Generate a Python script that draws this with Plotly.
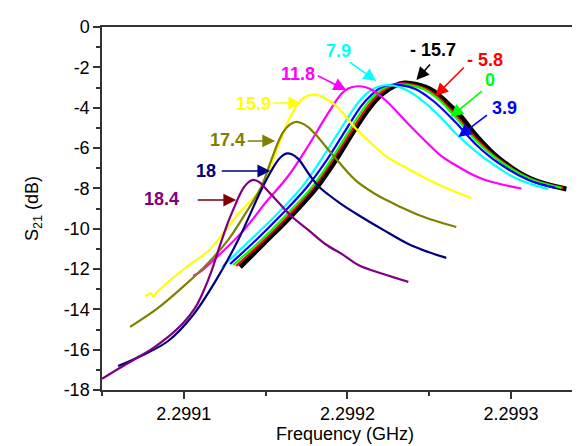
import plotly.graph_objects as go

# ---- data (frequency in GHz, S21 in dB) ----
labels = ["-15.7", "-5.8", "0", "3.9", "7.9", "11.8", "15.9", "17.4", "18", "18.4"]
colors = ["#000000", "#FF0000", "#00FF00", "#0000FF", "#00FFFF", "#FF00FF",
          "#FFFF00", "#808000", "#000080", "#800080"]

f_black = [2.2991344, 2.2991491, 2.2991644, 2.2991809, 2.2991925, 2.2992042, 2.2992133, 2.2992213,
           2.2992286, 2.2992347, 2.2992421, 2.2992513, 2.2992604, 2.2992690, 2.2992788, 2.2992922,
           2.2993124, 2.2993338]
s_black = [-11.90, -10.71, -9.47, -7.98, -6.64, -5.11, -4.02, -3.32, -2.93, -2.78, -2.85, -3.12,
           -3.72, -4.41, -5.40, -6.49, -7.54, -8.03]

f_red = [2.2991320, 2.2991479, 2.2991632, 2.2991791, 2.2991907, 2.2992029, 2.2992121, 2.2992194,
         2.2992268, 2.2992329, 2.2992396, 2.2992494, 2.2992586, 2.2992678, 2.2992782, 2.2992922,
         2.2993124, 2.2993320]
s_red = [-11.85, -10.66, -9.42, -7.98, -6.64, -5.11, -3.97, -3.32, -2.93, -2.80, -2.85, -3.12,
         -3.72, -4.51, -5.50, -6.54, -7.54, -7.98]

f_green = [2.2991302, 2.2991467, 2.2991620, 2.2991779, 2.2991895, 2.2992017, 2.2992109, 2.2992182,
           2.2992250, 2.2992305, 2.2992372, 2.2992464, 2.2992555, 2.2992659, 2.2992782, 2.2992922,
           2.2993118, 2.2993308]
s_green = [-11.80, -10.61, -9.37, -7.98, -6.64, -5.06, -3.92, -3.27, -2.93, -2.85, -2.88, -3.07,
           -3.57, -4.46, -5.60, -6.59, -7.54, -7.98]

f_blue = [2.2991283, 2.2991442, 2.2991589, 2.2991748, 2.2991870, 2.2991993, 2.2992084, 2.2992146,
          2.2992201, 2.2992256, 2.2992323, 2.2992415, 2.2992525, 2.2992659, 2.2992782, 2.2992922,
          2.2993106, 2.2993271]
s_blue = [-11.75, -10.56, -9.37, -7.98, -6.64, -5.06, -3.92, -3.37, -3.02, -2.88, -2.88, -3.07,
          -3.67, -4.71, -5.80, -6.74, -7.59, -7.98]

f_cyan = [2.2991234, 2.2991393, 2.2991546, 2.2991717, 2.2991834, 2.2991962, 2.2992054, 2.2992115,
          2.2992170, 2.2992219, 2.2992280, 2.2992372, 2.2992476, 2.2992574, 2.2992659, 2.2992782,
          2.2992904, 2.2993026, 2.2993136, 2.2993228]
s_cyan = [-11.90, -10.66, -9.47, -7.98, -6.64, -5.01, -3.87, -3.32, -3.02, -2.90, -2.90, -3.17,
          -3.77, -4.51, -5.26, -6.15, -6.89, -7.49, -7.83, -8.03]

f_magenta = [2.2991057, 2.2991106, 2.2991222, 2.2991363, 2.2991503, 2.2991638, 2.2991760, 2.2991864,
             2.2991962, 2.2992005, 2.2992048, 2.2992090, 2.2992139, 2.2992231, 2.2992372, 2.2992513,
             2.2992574, 2.2992659, 2.2992782, 2.2992861, 2.2992983, 2.2993063]
s_magenta = [-12.35, -12.10, -11.25, -10.11, -8.68, -7.39, -5.90, -4.51, -3.32, -3.05, -2.95, -2.95,
             -3.07, -3.62, -4.81, -5.95, -6.40, -6.84, -7.39, -7.64, -7.88, -8.01]

f_yellow = [2.2990763, 2.2990800, 2.2990812, 2.2990843, 2.2991008, 2.2991149, 2.2991228, 2.2991332,
            2.2991473, 2.2991577, 2.2991638, 2.2991681, 2.2991717, 2.2991754, 2.2991791, 2.2991828,
            2.2991870, 2.2991925, 2.2991987, 2.2992048, 2.2992170, 2.2992250, 2.2992372, 2.2992451,
            2.2992574, 2.2992757]
s_yellow = [-13.36, -13.21, -13.36, -13.09, -11.95, -11.11, -10.36, -9.27, -7.98, -5.90, -4.66, -4.02,
            -3.62, -3.42, -3.35, -3.40, -3.57, -3.87, -4.41, -5.01, -5.95, -6.49, -7.04, -7.39,
            -7.88, -8.48]

f_olive = [2.2990672, 2.2990843, 2.2991008, 2.2991149, 2.2991271, 2.2991375, 2.2991473, 2.2991528,
           2.2991577, 2.2991607, 2.2991644, 2.2991681, 2.2991717, 2.2991760, 2.2991803, 2.2991925,
           2.2992048, 2.2992170, 2.2992250, 2.2992311, 2.2992451, 2.2992665]
s_olive = [-14.87, -13.93, -12.79, -11.70, -10.56, -9.27, -7.93, -6.74, -5.70, -5.21, -4.86, -4.71,
           -4.76, -4.96, -5.31, -6.49, -7.59, -8.28, -8.63, -8.87, -9.37, -9.92]

f_navy = [2.2990598, 2.2990751, 2.2990904, 2.2991057, 2.2991198, 2.2991332, 2.2991473, 2.2991534,
          2.2991577, 2.2991607, 2.2991632, 2.2991656, 2.2991699, 2.2991760, 2.2991821, 2.2991895,
          2.2991962, 2.2992066, 2.2992219, 2.2992372, 2.2992494, 2.2992604]
s_navy = [-16.81, -16.26, -15.57, -14.28, -12.54, -10.56, -8.08, -7.14, -6.59, -6.35, -6.27, -6.30,
          -6.54, -7.24, -7.88, -8.38, -8.78, -9.32, -10.06, -10.76, -11.16, -11.45]

f_purple = [2.2990500, 2.2990598, 2.2990702, 2.2990812, 2.2990904, 2.2990996, 2.2991069, 2.2991118,
            2.2991167, 2.2991228, 2.2991271, 2.2991314, 2.2991344, 2.2991369, 2.2991393, 2.2991418,
            2.2991442, 2.2991467, 2.2991497, 2.2991565, 2.2991656, 2.2991760, 2.2991864, 2.2991974,
            2.2992066, 2.2992219, 2.2992372]
s_purple = [-17.45, -16.96, -16.46, -15.92, -15.37, -14.68, -13.93, -13.14, -12.15, -10.66, -9.67,
            -8.83, -8.28, -7.93, -7.71, -7.59, -7.61, -7.73, -7.98, -8.58, -9.37, -10.06, -10.76,
            -11.30, -11.80, -12.25, -12.64]

freqs = [f_black, f_red, f_green, f_blue, f_cyan, f_magenta, f_yellow, f_olive, f_navy, f_purple]
s21s = [s_black, s_red, s_green, s_blue, s_cyan, s_magenta, s_yellow, s_olive, s_navy, s_purple]

# label arrow heads (data coords) and tails (pixel offsets)
arrow_x = [2.2992421, 2.2992537, 2.2992629, 2.2992678, 2.2992176, 2.2991993, 2.2991717, 2.2991558, 2.2991528, 2.2991320]
arrow_y = [-2.63, -3.42, -4.46, -5.45, -2.68, -3.12, -3.77, -5.65, -7.14, -8.58]
arrow_ax = [15, 30, 33, 30, -28, -30, -30, -29, -50, -40]
arrow_ay = [-17, -30, -27, -23, -20, -15, 0, 0, 0, 0]
arrow_colors = ["#000000", "#FF0000", "#00FF00", "#0000FF", "#00FFFF", "#FF00FF",
                "#FFFF00", "#808000", "#000080", "#800000"]
label_text = ["- 15.7", "- 5.8", "0", "3.9", "7.9", "11.8", "15.9", "17.4", "18", "18.4"]
label_px = [0.681, 0.788, 0.798, 0.829, 0.486, 0.403, 0.311, 0.259, 0.214, 0.123]
label_py = [0.937, 0.909, 0.854, 0.777, 0.934, 0.871, 0.788, 0.689, 0.603, 0.526]

y_ticks = [0, -2, -4, -6, -8, -10, -12, -14, -16, -18]
y_ticktext = ["0", "-2", "-4", "-6", "-8", "-10", "-12", "-14", "-16", "-18"]
x_ticks = [2.2991, 2.2992, 2.2993]
x_ticktext = ["2.2991", "2.2992", "2.2993"]

FONT = "Liberation Sans, Arial, sans-serif"

fig = go.Figure()
for i, (f, s) in enumerate(zip(freqs, s21s)):
    fig.add_trace(go.Scatter(
        x=f, y=s, mode="lines", name=labels[i],
        line=dict(color=colors[i], width=5 if i == 0 else 2.2, shape="spline", smoothing=1.0),
        showlegend=False))

ann = []
for i in range(len(arrow_x)):
    ann.append(dict(x=arrow_x[i], y=arrow_y[i], xref="x", yref="y",
                    ax=arrow_ax[i], ay=arrow_ay[i], axref="pixel", ayref="pixel",
                    text="", showarrow=True, arrowhead=2, arrowsize=1.6,
                    arrowwidth=1.6, arrowcolor=arrow_colors[i], standoff=0))
for i in range(len(label_text)):
    ann.append(dict(x=label_px[i], y=label_py[i], xref="paper", yref="paper",
                    text="<b>%s</b>" % label_text[i], showarrow=False,
                    xanchor="center", yanchor="middle",
                    font=dict(family=FONT, size=18, color=colors[i])))

fig.update_layout(
    width=580, height=446,
    margin=dict(l=94, r=0, t=19, b=64),
    paper_bgcolor="white", plot_bgcolor="white",
    font=dict(family=FONT, size=18, color="black"),
    annotations=ann,
)
fig.update_xaxes(
    range=[2.29905, 2.299347],
    tickvals=x_ticks, ticktext=x_ticktext,
    ticks="outside", ticklen=7, tickwidth=1.5, tickcolor="#333",
    minor=dict(dtick=0.00005, tick0=2.2991, ticks="outside", ticklen=4, tickwidth=1.5, tickcolor="#333"),
    showline=True, linecolor="#333", linewidth=1.5, mirror=True,
    showgrid=False, zeroline=False,
    title=dict(text="Frequency (GHz)", font=dict(size=18), standoff=4),
    tickfont=dict(size=18),
)
fig.update_yaxes(
    range=[-18, 0],
    tickvals=y_ticks, ticktext=y_ticktext,
    ticks="outside", ticklen=7, tickwidth=1.5, tickcolor="#333",
    minor=dict(dtick=1, ticks="outside", ticklen=4, tickwidth=1.5, tickcolor="#333"),
    showline=True, linecolor="#333", linewidth=1.5, mirror=False,
    showgrid=False, zeroline=False,
    title=dict(text="S<sub>21</sub> (dB)", font=dict(size=18), standoff=20),
    tickfont=dict(size=18),
)

fig.write_html("out.html")
